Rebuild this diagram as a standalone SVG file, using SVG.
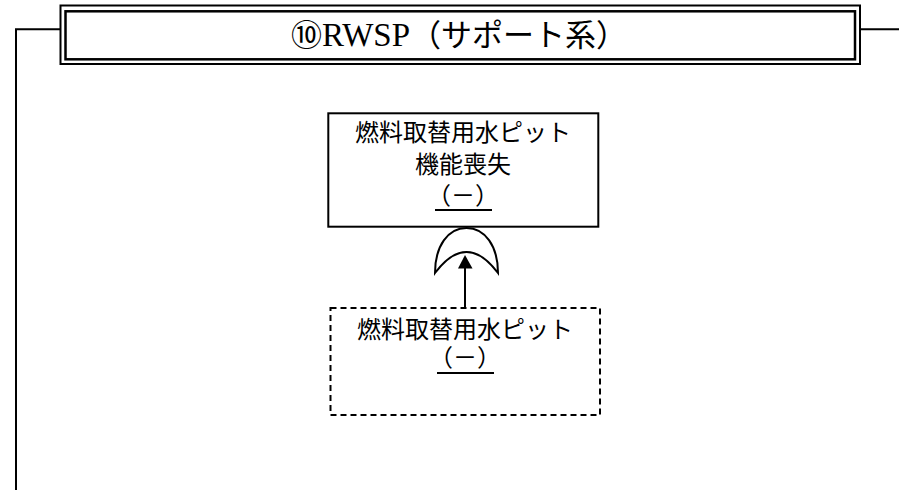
<svg xmlns="http://www.w3.org/2000/svg" width="899" height="490" viewBox="0 0 899 490">
<style>
.ln{fill:none;stroke:#000;stroke-width:2}
.box{fill:#fff;stroke:#000;stroke-width:2}
.dash{fill:#fff;stroke:#000;stroke-width:2;stroke-dasharray:6 4}
.t{font-family:"Liberation Serif","Noto Sans CJK JP",serif;fill:#000;text-anchor:middle}
.j{font-family:"Noto Sans CJK JP",sans-serif;font-size:24px;fill:#000;text-anchor:middle}
</style>
<g id="connectors">
<path class="ln" d="M60,29.3 H16 V490"/>
<path class="ln" d="M860,29.3 H899"/>
</g>
<g id="title">
<rect x="60.5" y="5.5" width="799.5" height="58.5" fill="#fff" stroke="#000" stroke-width="2"/>
<rect x="65.5" y="11.3" width="789.5" height="48" fill="none" stroke="#000" stroke-width="2.5"/>
<text class="t" x="459" y="46" font-size="31">⑩<tspan font-size="33">RWSP</tspan>（サポート系）</text>
</g>
<g id="top-event">
<rect class="box" x="328.3" y="113.3" width="270" height="113.4"/>
<text class="j" x="463" y="141">燃料取替用水ピット</text>
<text class="j" x="463" y="173">機能喪失</text>
<text class="j" x="463" y="204">（－）</text>
<line x1="435" y1="210" x2="492" y2="210" stroke="#000" stroke-width="2"/>
</g>
<g id="or-gate">
<path d="M435,273 C435,246 448,228 466.5,228 C485,228 498,246 498,273 Q466.5,231 435,273 Z" fill="#fff" stroke="#000" stroke-width="2"/>
</g>
<g id="connector-arrow">
<path class="ln" d="M465,308 V268"/>
<path d="M458,268.5 L465,255 L472.5,268.5 Z" fill="#000"/>
</g>
<g id="basic-event">
<rect class="dash" x="330.5" y="308" width="269.5" height="107"/>
<text class="j" x="465" y="338">燃料取替用水ピット</text>
<text class="j" x="465" y="366">（－）</text>
<line x1="437" y1="373" x2="494" y2="373" stroke="#000" stroke-width="2"/>
</g>
</svg>
